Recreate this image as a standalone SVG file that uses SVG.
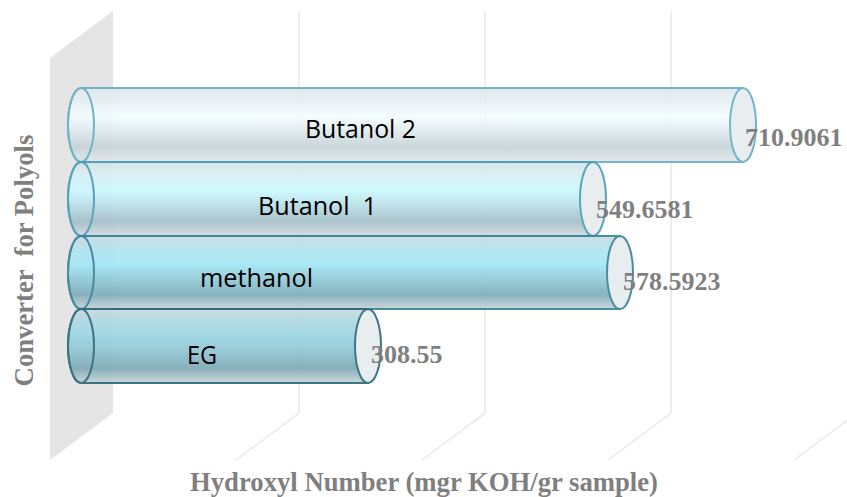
<svg xmlns="http://www.w3.org/2000/svg" width="847" height="497" viewBox="0 0 847 497">
<style>
.grid{stroke:#e9e9e9;stroke-width:1.5;fill:none}
.cat{font-family:"Open Sans","Liberation Sans",sans-serif;font-size:25px;fill:#000;white-space:pre}
.val{font-family:"Liberation Serif","Times New Roman",serif;font-weight:bold;font-size:26px;fill:#7f7f7f}
.ttl{font-family:"Liberation Serif","Times New Roman",serif;font-weight:bold;font-size:26.7px;fill:#7f7f7f;white-space:pre}
.cap{fill:#e7ecee}
</style>
<defs>
<linearGradient id="g1" x1="0" y1="0" x2="0" y2="1">
<stop offset="0" stop-color="#dfe8eb"/><stop offset="0.15" stop-color="#e6eef1"/><stop offset="0.38" stop-color="#f4fdff"/><stop offset="0.55" stop-color="#e3eef1"/><stop offset="0.8" stop-color="#c7d3d7"/><stop offset="1" stop-color="#e2e8ea"/>
</linearGradient>
<linearGradient id="g2" x1="0" y1="0" x2="0" y2="1">
<stop offset="0" stop-color="#d4e2e6"/><stop offset="0.15" stop-color="#d8eef2"/><stop offset="0.38" stop-color="#cdf9ff"/><stop offset="0.55" stop-color="#bde4ec"/><stop offset="0.8" stop-color="#a4bfc7"/><stop offset="1" stop-color="#d2dcdf"/>
</linearGradient>
<linearGradient id="g3" x1="0" y1="0" x2="0" y2="1">
<stop offset="0" stop-color="#c9dde2"/><stop offset="0.15" stop-color="#b5e2ec"/><stop offset="0.38" stop-color="#a4e8f8"/><stop offset="0.55" stop-color="#95d0de"/><stop offset="0.8" stop-color="#7eaebb"/><stop offset="1" stop-color="#c6d4d7"/>
</linearGradient>
<linearGradient id="g4" x1="0" y1="0" x2="0" y2="1">
<stop offset="0" stop-color="#cadbe0"/><stop offset="0.15" stop-color="#b0d8e2"/><stop offset="0.38" stop-color="#9ad5e4"/><stop offset="0.55" stop-color="#91c7d4"/><stop offset="0.8" stop-color="#7eaab6"/><stop offset="1" stop-color="#c8d5d8"/>
</linearGradient>
</defs>

<g id="wall">
<polygon points="50,58 113,11 113,413 50,460" fill="#e5e5e5"/>
</g>
<g id="gridlines">
<polyline class="grid" points="299,11 299,413 236,460"/>
<polyline class="grid" points="485,11 485,413 422,460"/>
<polyline class="grid" points="671,11 671,413 608,460"/>
<polyline class="grid" points="857,11 857,413 794,460"/>
</g>

<g id="bar-butanol2" opacity="0.92">
<path d="M81,88 H743 V162 H81 A13,37 0 0 1 81,88 Z" fill="url(#g1)" stroke="#6aafc5" stroke-width="2"/>
<ellipse class="cap" cx="743" cy="125" rx="13" ry="37" stroke="#6aafc5" stroke-width="2"/>
<ellipse cx="81" cy="125" rx="13" ry="37" fill="none" stroke="#6aafc5" stroke-width="2"/>
</g>
<g id="bar-butanol1" opacity="0.92">
<path d="M81,162 H593 V236 H81 A13,37 0 0 1 81,162 Z" fill="url(#g2)" stroke="#4e9eb6" stroke-width="2"/>
<ellipse class="cap" cx="593" cy="199" rx="13" ry="37" stroke="#4e9eb6" stroke-width="2"/>
<ellipse cx="81" cy="199" rx="13" ry="37" fill="none" stroke="#4e9eb6" stroke-width="2"/>
</g>
<g id="bar-methanol" opacity="0.92">
<path d="M81,236 H620 V309 H81 A13,36.5 0 0 1 81,236 Z" fill="url(#g3)" stroke="#3c8397" stroke-width="2"/>
<ellipse class="cap" cx="620" cy="272.5" rx="13" ry="36.5" stroke="#3c8397" stroke-width="2"/>
<ellipse cx="81" cy="272.5" rx="13" ry="36.5" fill="none" stroke="#3c8397" stroke-width="2"/>
</g>
<g id="bar-eg" opacity="0.92">
<path d="M81,309 H368 V383 H81 A13,37 0 0 1 81,309 Z" fill="url(#g4)" stroke="#2f6b7b" stroke-width="2"/>
<ellipse class="cap" cx="368" cy="346" rx="13" ry="37" stroke="#2f6b7b" stroke-width="2"/>
<ellipse cx="81" cy="346" rx="13" ry="37" fill="none" stroke="#2f6b7b" stroke-width="2"/>
</g>

<g id="category-labels">
<text class="cat" x="305" y="138" textLength="111" lengthAdjust="spacingAndGlyphs">Butanol 2</text>
<text class="cat" x="258" y="215" textLength="119" lengthAdjust="spacingAndGlyphs">Butanol  1</text>
<text class="cat" x="200" y="287" textLength="113" lengthAdjust="spacingAndGlyphs">methanol</text>
<text class="cat" x="187" y="364" textLength="30" lengthAdjust="spacingAndGlyphs">EG</text>
</g>
<g id="value-labels">
<text class="val" x="745" y="146">710.9061</text>
<text class="val" x="596" y="218">549.6581</text>
<text class="val" x="623" y="290">578.5923</text>
<text class="val" x="371" y="363">308.55</text>
</g>
<g id="axis-titles">
<text class="ttl" x="424" y="491" text-anchor="middle">Hydroxyl Number (mgr KOH/gr sample)</text>
<text class="ttl" transform="translate(33,260.5) rotate(-90)" text-anchor="middle">Converter  for Polyols</text>
</g>
</svg>
